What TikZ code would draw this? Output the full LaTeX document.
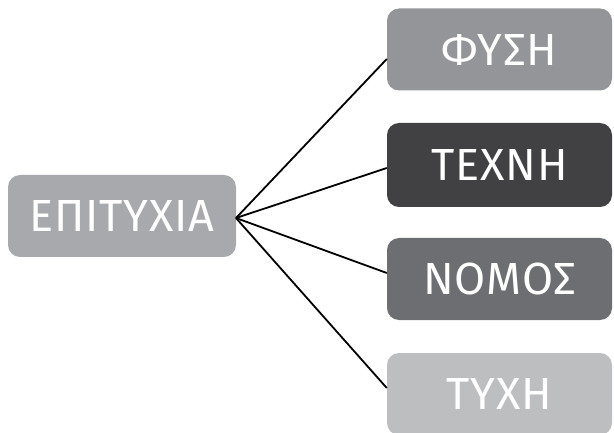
\documentclass[tikz,border=0pt]{standalone}
\usepackage{fontspec}
\setmainfont{Fira Sans}[LetterSpace=2]
\definecolor{epigray}{HTML}{A7A9AC}
\definecolor{fysigray}{HTML}{939598}
\definecolor{technigray}{HTML}{414042}
\definecolor{nomosgray}{HTML}{6D6E71}
\definecolor{tychigray}{HTML}{BCBEC0}
\tikzset{
	box/.style={rounded corners=12pt, inner sep=0pt, text=white, font=\fontsize{45}{45}\selectfont, minimum height=82pt, text depth=0pt},
	link/.style={line width=1.8pt, black}
}
\begin{document}
\begin{tikzpicture}[x=1pt, y=-1pt]
		\useasboundingbox (0,0) rectangle (614,433);
		\clip (0,0) rectangle (614,433);
		%left box
		\node (epi) at (122, 216) [box, fill=epigray, minimum width=228pt]{ΕΠΙΤΥΧΙΑ};
		\coordinate (hub) at (236, 218);
		
		%right boxes
		\node (fysi) at (499.5, 49.5) [box, fill=fysigray, minimum width=225pt]{ΦΥΣΗ};
		\node (techni) at (499.5, 165) [box, fill=technigray, minimum width=225pt, minimum height=84pt]{ΤΕΧΝΗ};
		\node (nomos) at (499.5, 279) [box, fill=nomosgray, minimum width=225pt]{ΝΟΜΟΣ};
		\node (tychi) at (499.5, 394) [box, fill=tychigray, minimum width=225pt]{ΤΥΧΗ};
		
		\draw[link] (hub) -- ([yshift=-9.5pt]fysi.west);
		\draw[link] (hub) -- ([yshift=-3pt]techni.west);
		\draw[link] (hub) -- ([yshift=6pt]nomos.west);
		\draw[link] (hub) -- ([yshift=6pt]tychi.west);
		\end{tikzpicture}
\end{document}
